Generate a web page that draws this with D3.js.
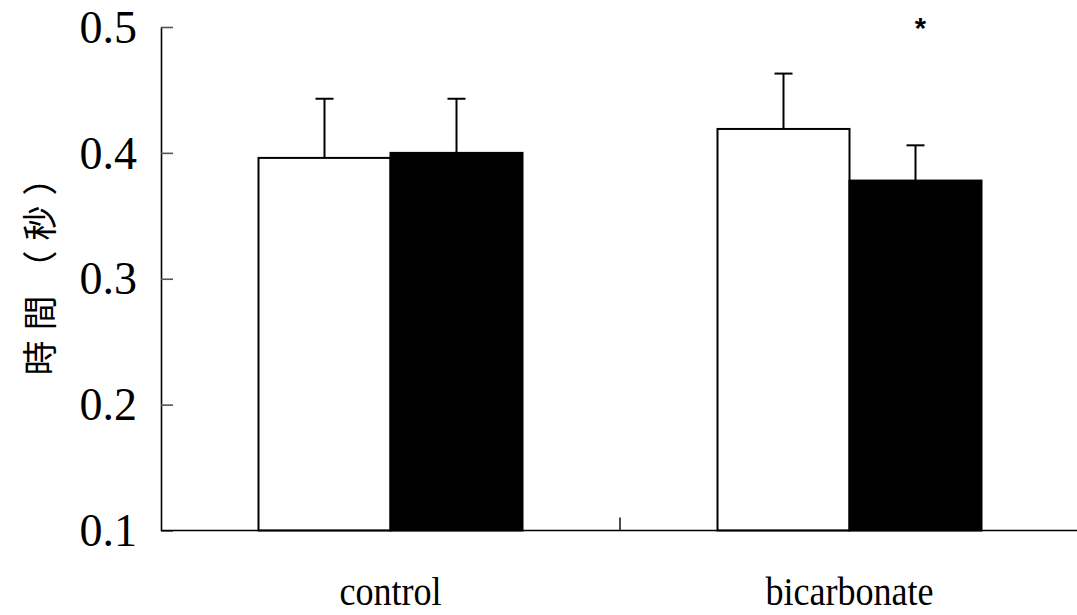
<!DOCTYPE html>
<html>
<head>
<meta charset="utf-8">
<script src="https://cdn.jsdelivr.net/npm/d3@7"></script>
<style>
  html, body { margin: 0; padding: 0; background: #fff; }
  svg { display: block; }
</style>
</head>
<body>
<svg id="chart" width="1077" height="615"></svg>
<script>
// Reaction time by condition, before (white) and after (black)
const categories = ["control", "bicarbonate"];
const seriesNames = ["before", "after"];
const seriesFill = ["#ffffff", "#000000"];
const beforeMean = [0.396, 0.419];
const afterMean = [0.400, 0.378];
const beforeSD = [0.047, 0.044];
const afterSD = [0.043, 0.028];
const yTicks = [0.1, 0.2, 0.3, 0.4, 0.5];
const yTickLabels = ["0.1", "0.2", "0.3", "0.4", "0.5"];
const yTitle = "時間（秒）";
const significance = ["", "*"];

const svg = d3.select("#chart");
const plotLeft = 161, plotRight = 1079, plotTop = 27, plotBottom = 530.5;

const x = d3.scaleBand().domain(categories).range([plotLeft, plotRight]).paddingInner(0).paddingOuter(0);
const groupWidth = 264;
const xs = d3.scaleBand().domain(seriesNames).range([0, groupWidth]);
const y = d3.scaleLinear().domain([0.1, 0.5]).range([plotBottom, plotTop]);

const rows = categories.map((c, i) => ({
  cat: c,
  values: [
    { s: seriesNames[0], mean: beforeMean[i], sd: beforeSD[i], fill: seriesFill[0] },
    { s: seriesNames[1], mean: afterMean[i], sd: afterSD[i], fill: seriesFill[1] }
  ],
  sig: significance[i]
}));

const groupX = c => x(c) + (x.bandwidth() - groupWidth) / 2;

// error bars (drawn first, upper whisker only)
const g = svg.append("g");
rows.forEach(r => {
  r.values.forEach(v => {
    const cx = groupX(r.cat) + xs(v.s) + xs.bandwidth() / 2;
    g.append("line").attr("x1", cx).attr("x2", cx)
      .attr("y1", y(v.mean)).attr("y2", y(v.mean + v.sd))
      .attr("stroke", "#000").attr("stroke-width", 2);
    g.append("line").attr("x1", cx - 9).attr("x2", cx + 9)
      .attr("y1", y(v.mean + v.sd)).attr("y2", y(v.mean + v.sd))
      .attr("stroke", "#000").attr("stroke-width", 2);
  });
});

// bars
rows.forEach(r => {
  g.selectAll(null).data(r.values).enter().append("rect")
    .attr("x", v => groupX(r.cat) + xs(v.s))
    .attr("y", v => y(v.mean))
    .attr("width", xs.bandwidth())
    .attr("height", v => y(0.1) - y(v.mean))
    .attr("fill", v => v.fill)
    .attr("stroke", "#000")
    .attr("stroke-width", 2);
});

// significance marks
rows.forEach(r => {
  if (!r.sig) return;
  const cx = groupX(r.cat) + xs(seriesNames[1]) + xs.bandwidth() / 2 + 5;
  svg.append("text").attr("x", cx).attr("y", y(0.5) + 11)
    .attr("text-anchor", "middle")
    .attr("font-family", "Liberation Sans, Arial, sans-serif")
    .attr("font-size", 29).attr("font-weight", "bold")
    .text(r.sig);
});

// y axis
const yAxis = d3.axisRight(y).tickValues(yTicks)
  .tickFormat((d, i) => yTickLabels[i]).tickSize(12).tickSizeOuter(0);
const ya = svg.append("g").attr("transform", `translate(${plotLeft},0)`).call(yAxis);
ya.select(".domain").attr("stroke", "#000").attr("stroke-width", 1.6);
ya.selectAll(".tick line").attr("stroke", "#555").attr("stroke-width", 1.6);
ya.selectAll(".tick text")
  .attr("x", -24).attr("dy", "0.33em").attr("text-anchor", "end")
  .attr("font-family", "Liberation Serif, Times New Roman, serif")
  .attr("font-size", 46).attr("fill", "#000");

// x axis
svg.append("line").attr("x1", plotLeft).attr("x2", 1077)
  .attr("y1", plotBottom).attr("y2", plotBottom)
  .attr("stroke", "#000").attr("stroke-width", 1.6);
// separator tick between the two categories
const sepX = x(categories[1]);
svg.append("line").attr("x1", sepX).attr("x2", sepX)
  .attr("y1", plotBottom).attr("y2", plotBottom - 13)
  .attr("stroke", "#000").attr("stroke-width", 1.4);

// category labels (slightly condensed serif)
svg.selectAll(".cat").data(categories).enter().append("text")
  .attr("class", "cat")
  .attr("transform", c => `translate(${x(c) + x.bandwidth() / 2},605) scale(0.88,1)`)
  .attr("text-anchor", "middle")
  .attr("font-family", "Liberation Serif, Times New Roman, serif")
  .attr("font-size", 41)
  .text(c => c);

// y title
svg.append("text")
  .attr("transform", "translate(53,263) rotate(-90)")
  .attr("text-anchor", "middle")
  .attr("font-family", "Noto Sans CJK TC, Noto Sans CJK SC, sans-serif")
  .attr("font-size", 35)
  .attr("letter-spacing", 10)
  .text(yTitle);
</script>
</body>
</html>
